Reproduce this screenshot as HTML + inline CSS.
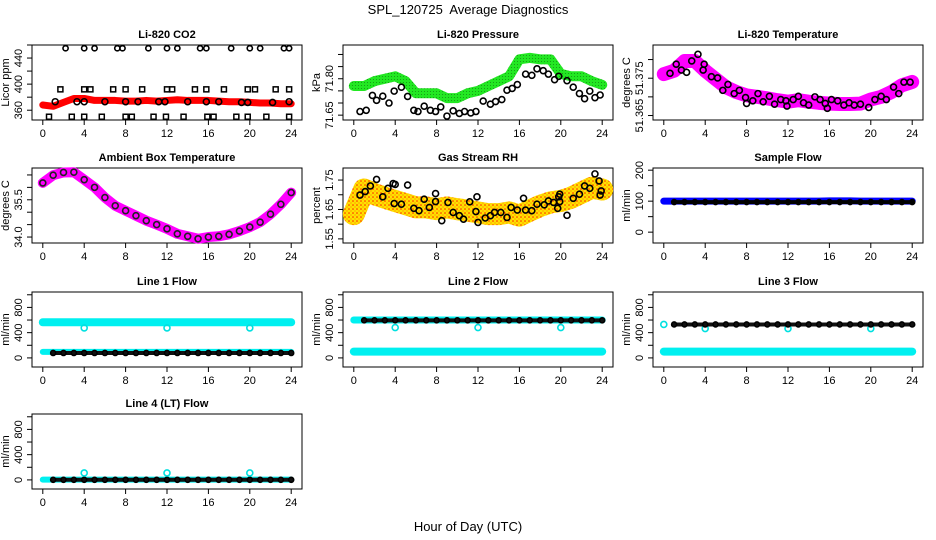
<!DOCTYPE html>
<html><head><meta charset="utf-8"><style>
html,body{margin:0;padding:0;background:#fff;}
svg{display:block;font-family:"Liberation Sans",Arial,sans-serif;}
</style></head><body>
<svg id="chart" width="936" height="540" viewBox="0 0 936 540" xmlns="http://www.w3.org/2000/svg">
<defs>
<pattern id="rhpat" width="4" height="4" patternUnits="userSpaceOnUse"><rect width="4" height="4" fill="#ffe000"/><circle cx="1" cy="1" r="0.8" fill="#ff2000"/><circle cx="3" cy="3" r="0.6" fill="#ff8000"/></pattern>
<pattern id="grpat" width="3" height="3" patternUnits="userSpaceOnUse"><rect width="3" height="3" fill="#22e822"/><circle cx="1.5" cy="1.5" r="0.5" fill="#118811"/></pattern>
</defs>
<text x="468" y="14" text-anchor="middle" font-size="13" xml:space="preserve">SPL_120725  Average Diagnostics</text>
<text x="468" y="531" text-anchor="middle" font-size="13">Hour of Day (UTC)</text>
<g id="plots"></g>
</svg>
<script>
// ---------- data ----------
const hours=[0,1,2,3,4,5,6,7,8,9,10,11,12,13,14,15,16,17,18,19,20,21,22,23,24];
const xTicks=[0,4,8,12,16,20,24];

const co2Band=[368,366,372,378,378,375,375,375,374,374,375,374,375,376,375,375,375,374,373,373,372,371,371,370,370];
const co2HighX=[2.2,4,5,7.2,7.7,10.2,12,13,15.2,15.8,18.2,20,21,23.3,23.8];
const co2HighY=[455,455,455,455,455,455,455,455,455,455,455,455,455,455,455];
const co2MidX=[1.7,4,4.6,6.8,8,9.6,12,12.5,14.7,15.8,17.5,19.8,20.5,22.5,23.8];
const co2MidY=[392,392,392,392,392,392,392,392,392,392,392,392,392,392,392];
const co2LowX=[0.6,2.8,4,5.7,8,8.6,10.7,11.9,13.6,15.9,16.5,18.7,19.8,21.6,23.8];
const co2LowY=[350,350,350,350,350,350,350,350,350,350,350,350,350,350,350];
const co2BandPtsX=[1.2,3.3,4,6,8,9.2,11.2,11.8,14,15.8,17,19.2,19.8,22.2,23.8];
const co2BandPtsY=[373,373,373,373,373,373,373,373,373,373,373,372,372,372,373];

const presBand=[71.77,71.77,71.79,71.80,71.81,71.79,71.74,71.74,71.74,71.72,71.72,71.74,71.75,71.77,71.79,71.81,71.88,71.886,71.88,71.88,71.82,71.81,71.81,71.79,71.775];
const presPtsX=[0.6,1.2,1.8,2.2,2.8,3.4,3.9,4.6,5.2,5.8,6.2,6.8,7.4,7.9,8.4,9,9.6,10.2,10.7,11.3,11.8,12.5,13.2,13.7,14.3,14.8,15.3,15.8,16.6,17.2,17.7,18.3,18.8,19.4,19.8,20.6,21.2,21.8,22.3,22.8,23.3,23.8];
const presPtsY=[71.665,71.670,71.731,71.711,71.728,71.700,71.749,71.765,71.727,71.670,71.665,71.687,71.670,71.665,71.684,71.646,71.668,71.657,71.665,71.659,71.665,71.708,71.695,71.706,71.714,71.753,71.760,71.776,71.819,71.814,71.841,71.833,71.819,71.796,71.810,71.792,71.765,71.739,71.718,71.749,71.722,71.733];

const tempBand=[51.3761,51.3770,51.3796,51.3796,51.3770,51.3748,51.3726,51.3713,51.3704,51.3700,51.3696,51.3691,51.3687,51.3691,51.3687,51.3684,51.3682,51.3681,51.3681,51.3682,51.3693,51.3700,51.3713,51.3731,51.3740];
const tempPtsX=[0.6,1.2,1.7,2.2,2.7,3.3,3.8,3.9,4.6,5.2,5.7,6.2,6.8,7.3,7.9,8,8.6,9.1,9.6,10.2,10.7,11.3,11.8,11.9,12.5,13,13.5,14,14.6,15.1,15.6,15.8,16.2,16.8,17.4,17.9,18.4,19,19.8,20.4,21,21.5,22.2,22.7,23.2,23.8];
const tempPtsY=[51.37631,51.37876,51.37718,51.37658,51.37963,51.3814,51.37718,51.37876,51.37542,51.37508,51.37174,51.37332,51.37087,51.37174,51.36982,51.36824,51.36895,51.37087,51.36868,51.37016,51.36805,51.36929,51.36895,51.36753,51.36929,51.37016,51.36842,51.36779,51.37,51.36929,51.36824,51.36692,51.36929,51.36895,51.36779,51.36842,51.36779,51.36805,51.36718,51.36929,51.37016,51.36929,51.37263,51.37087,51.37395,51.37395];

const ambBand=[36.18,36.49,36.6,36.61,36.31,36.0,35.59,35.26,35.06,34.86,34.66,34.5,34.33,34.13,34.03,33.93,34.0,34.03,34.11,34.24,34.4,34.6,34.92,35.32,35.79];

const rhBand=[1.634,1.718,1.702,1.690,1.679,1.668,1.657,1.657,1.651,1.657,1.651,1.646,1.640,1.634,1.634,1.640,1.629,1.646,1.662,1.674,1.679,1.690,1.707,1.724,1.718];
const rhPtsX=[0.6,1.1,1.6,2.2,2.8,3.3,3.8,4,3.9,4.6,5.2,5.8,6.3,6.8,7.3,7.9,7.9,8.5,9.1,9.6,10.2,10.6,11.2,11.8,11.9,12,12.7,13.2,13.6,14.2,14.8,15.2,15.8,16.4,16.6,17.2,17.7,18.4,18.8,19.3,19.7,19.8,19.9,19.9,20.6,21.2,21.8,22.3,22.8,23.3,23.7,23.8,23.9];
const rhPtsY=[1.699,1.711,1.730,1.752,1.693,1.722,1.738,1.735,1.670,1.668,1.733,1.654,1.646,1.685,1.657,1.704,1.677,1.612,1.674,1.640,1.629,1.617,1.676,1.643,1.693,1.606,1.621,1.629,1.640,1.640,1.623,1.657,1.648,1.688,1.648,1.646,1.668,1.666,1.679,1.674,1.654,1.693,1.702,1.677,1.630,1.688,1.702,1.730,1.722,1.771,1.747,1.699,1.713];

const sampleBlue=[100,100,100,100,100,100,100,100,100,100,100,100,100,100,100,100,101,101,101,100,100,100,100,100,100];
const sampleBlack=[97,97,97,97,97,97,97,97,97,97,97,97,97,97,97,97,97,97,97,97,97,97,97,97,97];

const outlierX=[4,12,20];
const l1CyanHigh=[565,565,565,565,565,565,565,565,565,565,565,565,565,565,565,565,565,565,565,565,565,565,565,565,565];
const l1CyanLow=[95,95,95,95,95,95,95,95,95,95,95,95,95,95,95,95,95,95,95,95,95,95,95,95,95];
const l1Black=[78,78,78,78,78,78,78,78,78,78,78,78,78,78,78,78,78,78,78,78,78,78,78,78,78];
const l1Out=[475,475,475];
const l2CyanHigh=[600,600,600,600,600,600,600,600,600,600,600,600,600,600,600,600,600,600,600,600,600,600,600,600,600];
const l2CyanLow=[100,100,100,100,100,100,100,100,100,100,100,100,100,100,100,100,100,100,100,100,100,100,100,100,100];
const l2Black=[595,595,595,595,595,595,595,595,595,595,595,595,595,595,595,595,595,595,595,595,595,595,595,595,595];
const l2Out=[480,480,480];
const l3CyanLow=[100,100,100,100,100,100,100,100,100,100,100,100,100,100,100,100,100,100,100,100,100,100,100,100,100];
const l3Black=[530,530,530,530,530,530,530,530,530,530,530,530,530,530,530,530,530,530,530,530,530,530,530,530,530];
const l3Out=[465,465,465];
const l4Cyan=[5,5,5,5,5,5,5,5,5,5,5,5,5,5,5,5,5,5,5,5,5,5,5,5,5];
const l4Black=[2,2,2,2,2,2,2,2,2,2,2,2,2,2,2,2,2,2,2,2,2,2,2,2,2];
const l4Out=[110,110,110];

// ---------- drawing ----------
const NS="http://www.w3.org/2000/svg";
const root=document.getElementById('plots');
const COLS=[32,343,653], ROWS=[45,168,292,414], W=270, H=75;
function el(tag,attrs,parent){const e=document.createElementNS(NS,tag);for(const k in attrs)e.setAttribute(k,attrs[k]);(parent||root).appendChild(e);return e;}

function panel(name,c,r,lo,hi,yticks,ylabels,title,ylab){
  const g=el('g',{});
  
  
  const L=COLS[c],T=ROWS[r];
  const xf=v=>L+W*(0.04+0.92*v/24);
  const yf=v=>T+H*(1-(v-lo)/(hi-lo));
  const box=el('rect',{x:L,y:T,width:W,height:H,fill:'none',stroke:'#000','stroke-width':1},g);
  
  
  const t=el('text',{x:L+W/2,y:T-7,'text-anchor':'middle','font-size':11,'font-weight':'bold'},g);
  t.textContent=title;
  
  
  const xa=el('g',{},g);
  
  
  el('line',{x1:xf(0),x2:xf(24),y1:T+H,y2:T+H,stroke:'#000'},xa);
  xTicks.forEach(v=>{el('line',{x1:xf(v),x2:xf(v),y1:T+H,y2:T+H+5,stroke:'#000'},xa);
    const tx=el('text',{x:xf(v),y:T+H+17,'text-anchor':'middle','font-size':11},xa);tx.textContent=v;
    
    });
  const ya=el('g',{},g);
  
  
  el('line',{x1:L,x2:L,y1:yf(yticks[0]),y2:yf(yticks[yticks.length-1]),stroke:'#000'},ya);
  yticks.forEach(v=>el('line',{x1:L-5,x2:L,y1:yf(v),y2:yf(v),stroke:'#000'},ya));
  ylabels.forEach(v=>{const tx=el('text',{x:0,y:0,'text-anchor':'middle','font-size':11,transform:`translate(${L-10},${yf(parseFloat(v))}) rotate(-90)`},ya);tx.textContent=v;
    
    });
  const yl=el('text',{x:0,y:0,'text-anchor':'middle','font-size':11,transform:`translate(${L-23},${T+H/2}) rotate(-90)`},g);
  yl.textContent=ylab;
  
  
  const clip='clip-'+name;
  const cp=el('clipPath',{id:clip},g);el('rect',{x:L-3,y:T-3,width:W+6,height:H+6},cp);
  const pg=el('g',{'clip-path':`url(#${clip})`},g);
  return {xf,yf,g:pg};
}
function band(p,xsArr,ys,color,w,name){
  const pts=xsArr.map((x,i)=>p.xf(x)+','+p.yf(ys[i])).join(' ');
  const pl=el('polyline',{points:pts,fill:'none',stroke:color,'stroke-width':w,'stroke-linecap':'round','stroke-linejoin':'round'},p.g);
  
  
}
function dots(p,xsArr,ys,color,rad,name,sq){
  xsArr.forEach((x,i)=>{
    let d;
    if(sq){d=el('rect',{x:p.xf(x)-2.5,y:p.yf(ys[i])-2.5,width:5,height:5,fill:'none',stroke:color,'stroke-width':1.5},p.g);}
    else{d=el('circle',{cx:p.xf(x),cy:p.yf(ys[i]),r:rad,fill:'none',stroke:color,'stroke-width':1.6},p.g);}
    
    
  });
}

// CO2
let p=panel('co2',0,0,345,460,[360,380,400,420,440,460],['360','400','440'],'Li-820 CO2','Licor ppm');
band(p,hours,co2Band,'#ff0000',7,'co2-band');
dots(p,co2HighX,co2HighY,'#000',2.6,'co2-point');
dots(p,co2MidX,co2MidY,'#000',2.6,'co2-point',true);
dots(p,co2LowX,co2LowY,'#000',2.6,'co2-point',true);
dots(p,co2BandPtsX,co2BandPtsY,'#000',3,'co2-point');

// Pressure
p=panel('pressure',1,0,71.63,71.939,[71.65,71.70,71.75,71.80,71.85,71.90],['71.65','71.80'],'Li-820 Pressure','kPa');
band(p,hours,presBand,'url(#grpat)',10,'pressure-band');
dots(p,presPtsX,presPtsY,'#000',3,'pressure-point');

// Temperature
p=panel('temperature',2,0,51.3638,51.3839,[51.365,51.370,51.375,51.380],['51.365','51.375'],'Li-820 Temperature','degrees C');
band(p,hours,tempBand,'#ff00ff',14,'temperature-band');
dots(p,tempPtsX,tempPtsY,'#000',3,'temperature-point');

// Ambient
p=panel('ambient',0,1,33.76,36.78,[34.0,34.5,35.0,35.5,36.0,36.5],['34.0','35.5'],'Ambient Box Temperature','degrees C');
band(p,hours,ambBand,'#ff00ff',10,'ambient-band');
dots(p,hours,ambBand,'#222',3,'ambient-point');

// RH
p=panel('rh',1,1,1.536,1.791,[1.55,1.60,1.65,1.70,1.75],['1.55','1.65','1.75'],'Gas Stream RH','percent');
band(p,hours,rhBand,'url(#rhpat)',22,'rh-band');
dots(p,rhPtsX,rhPtsY,'#000',3,'rh-point');

// Sample flow
p=panel('sample-flow',2,1,-35,207,[0,50,100,150,200],['0','100','200'],'Sample Flow','ml/min');
band(p,hours,sampleBlue,'#0000ff',7,'sample-flow-band');
band(p,hours.slice(1),sampleBlack.slice(1),'#000',4,'sample-flow-black');
dots(p,hours.slice(1),sampleBlack.slice(1),'#000',2.5,'sample-flow-point');

const fTicks=[0,200,400,600,800,1000], fLabels=['0','400','800'];
// Line 1
p=panel('line1-flow',0,2,-144,1044,fTicks,fLabels,'Line 1 Flow','ml/min');
band(p,hours,l1CyanHigh,'#00f0f0',8,'line1-cyan-high');
band(p,hours,l1CyanLow,'#00f0f0',6,'line1-cyan-low');
band(p,hours.slice(1),l1Black.slice(1),'#111',4,'line1-black');
dots(p,hours.slice(1),l1Black.slice(1),'#000',2.5,'line1-point');
dots(p,outlierX,l1Out,'#00e0e0',3,'line1-outlier');

// Line 2
p=panel('line2-flow',1,2,-144,1044,fTicks,fLabels,'Line 2 Flow','ml/min');
band(p,hours,l2CyanHigh,'#00f0f0',7,'line2-cyan-high');
band(p,hours,l2CyanLow,'#00f0f0',8,'line2-cyan-low');
band(p,hours.slice(1),l2Black.slice(1),'#111',4,'line2-black');
dots(p,hours.slice(1),l2Black.slice(1),'#000',2.5,'line2-point');
dots(p,outlierX,l2Out,'#00e0e0',3,'line2-outlier');

// Line 3
p=panel('line3-flow',2,2,-144,1044,fTicks,fLabels,'Line 3 Flow','ml/min');
band(p,hours,l3CyanLow,'#00f0f0',8,'line3-cyan-low');
dots(p,outlierX,l3Out,'#00e0e0',3,'line3-outlier');
dots(p,[0],[l3Black[0]],'#00e0e0',3,'line3-cyan-start');
band(p,hours.slice(1),l3Black.slice(1),'#111',4,'line3-black');
dots(p,hours.slice(1),l3Black.slice(1),'#000',2.5,'line3-point');

// Line 4
p=panel('line4-flow',0,3,-144,1044,fTicks,fLabels,'Line 4 (LT) Flow','ml/min');
band(p,hours,l4Cyan,'#00f0f0',6,'line4-cyan');
band(p,hours.slice(1),l4Black.slice(1),'#111',4,'line4-black');
dots(p,hours.slice(1),l4Black.slice(1),'#000',2.5,'line4-point');
dots(p,outlierX,l4Out,'#00e0e0',3,'line4-outlier');
</script>
</body></html>
